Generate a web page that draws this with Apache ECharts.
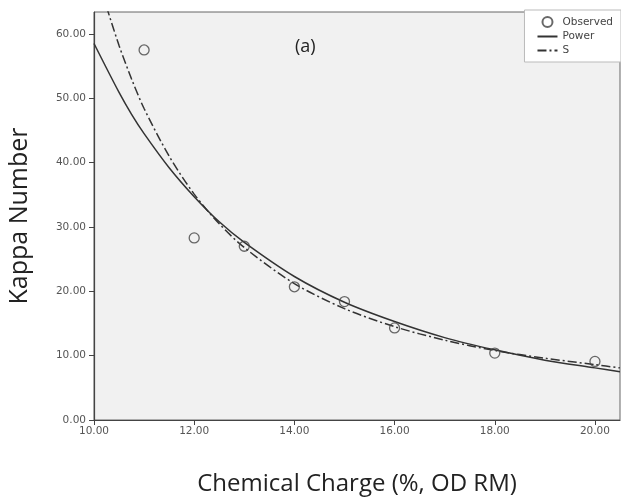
<!DOCTYPE html>
<html>
<head>
<meta charset="utf-8">
<script src="https://cdn.jsdelivr.net/npm/echarts@6/dist/echarts.min.js"></script>
<style>html,body{margin:0;padding:0;background:#fff}#c{width:621px;height:498px}</style>
</head>
<body>
<div id="c"></div>
<script>
// Observed data
const obsX = [11, 12, 13, 14, 15, 16, 18, 20];
const obsY = [57.5, 28.3, 27.0, 20.7, 18.4, 14.3, 10.4, 9.1];
// Power fit
const powX = [10, 10.5, 10.75, 11, 11.5, 12, 12.5, 13, 14, 15, 16, 17, 18, 19, 20, 20.5];
const powY = [58.5, 50.9, 47.5, 44.5, 39.2, 34.7, 30.8, 27.6, 22.3, 18.3, 15.3, 12.8, 10.9, 9.3, 8.1, 7.5];
// S fit
const sX = [10.25, 10.5, 10.75, 11, 11.5, 12, 12.5, 13, 14, 15, 16, 17, 18, 19, 20, 20.5];
const sY = [64.2, 58.2, 53.0, 48.4, 41.0, 35.1, 30.5, 26.8, 21.2, 17.3, 14.5, 12.4, 10.8, 9.6, 8.6, 8.1];
// Tick labels
const xTicks = [10, 12, 14, 16, 18, 20];
const yTicks = [0, 10, 20, 30, 40, 50, 60];

const zip = (a, b) => a.map((v, i) => [v, b[i]]);
const hideSym = {color: 'rgba(0,0,0,0)', borderColor: 'rgba(0,0,0,0)', borderWidth: 0, opacity: 0};
const chart = echarts.init(document.getElementById('c'), null, {renderer: 'canvas'});
chart.setOption({
  animation: false,
  backgroundColor: '#fff',
  grid: {left: 94, top: 12, right: 1, bottom: 78, containLabel: false, outerBoundsMode: 'none',
         show: true, backgroundColor: '#f1f1f1', borderColor: '#666', borderWidth: 1},
  title: {text: '(a)', left: 290, top: 33, textStyle: {fontFamily: 'Open Sans', fontSize: 18, fontWeight: 'normal', color: '#222'}},
  legend: {
    right: 0, top: 10, orient: 'vertical', backgroundColor: '#fff', borderColor: '#bbb', borderWidth: 1,
    padding: [6, 8, 6, 12], itemGap: 3, itemWidth: 20, itemHeight: 10,
    textStyle: {fontFamily: 'DejaVu Sans', fontSize: 10.5, color: '#444'},
    data: [
      {name: 'Observed'},
      {name: 'Power', itemStyle: hideSym},
      {name: 'S', itemStyle: hideSym}
    ]
  },
  xAxis: {
    type: 'value', min: 10, max: 20.5,
    name: 'Chemical Charge (%, OD RM)', nameLocation: 'middle', nameGap: 52,
    nameTextStyle: {fontFamily: 'Open Sans', fontSize: 24, color: '#222'},
    axisLine: {show: true, lineStyle: {color: '#444', width: 1.2}},
    axisTick: {show: true, length: 5, customValues: xTicks, lineStyle: {color: '#444'}},
    axisLabel: {customValues: xTicks, formatter: v => v.toFixed(2), fontFamily: 'DejaVu Sans', fontSize: 10.5, color: '#555', margin: 6},
    splitLine: {show: false}
  },
  yAxis: {
    type: 'value', min: 0, max: 63.4,
    name: 'Kappa Number', nameLocation: 'middle', nameGap: 62,
    nameTextStyle: {fontFamily: 'Open Sans', fontSize: 25, color: '#222'},
    axisLine: {show: true, lineStyle: {color: '#444', width: 1.2}},
    axisTick: {show: true, length: 5, customValues: yTicks, lineStyle: {color: '#444'}},
    axisLabel: {customValues: yTicks, formatter: v => v.toFixed(2), fontFamily: 'DejaVu Sans', fontSize: 10.5, color: '#555', margin: 8},
    splitLine: {show: false}
  },
  series: [
    {name: 'Observed', type: 'scatter', data: zip(obsX, obsY), symbol: 'circle', symbolSize: 10,
     itemStyle: {color: 'rgba(0,0,0,0)', borderColor: '#444', borderWidth: 1.3}, z: 5},
    {name: 'Power', type: 'line', data: zip(powX, powY), smooth: 0.3, symbol: 'none', clip: true,
     lineStyle: {color: '#333', width: 1.5}, itemStyle: {color: '#333'}},
    {name: 'S', type: 'line', data: zip(sX, sY), smooth: 0.3, symbol: 'none', clip: true,
     lineStyle: {color: '#333', width: 1.5, type: [9, 3, 2, 3]}, itemStyle: {color: '#333'}}
  ]
});
</script>
</body>
</html>
